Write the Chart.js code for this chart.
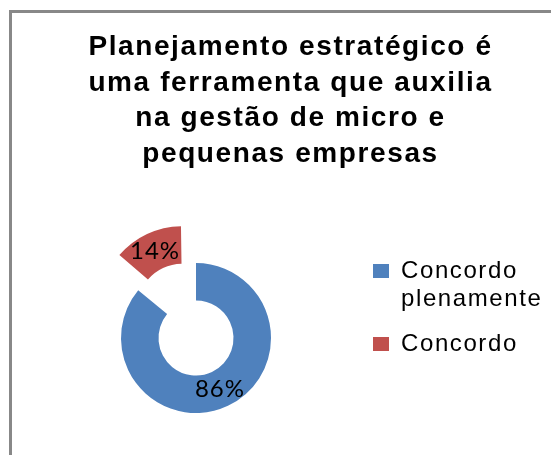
<!DOCTYPE html>
<html>
<head>
<meta charset="utf-8">
<script src="https://cdn.jsdelivr.net/npm/chart.js@4"></script>
<style>
  html, body { margin: 0; padding: 0; background: #fff; overflow: hidden; }
  #frame { position: absolute; left: 9px; top: 10px; width: 600px; height: 500px;
           border-left: 3px solid #888; border-top: 3px solid #888; }
  #wrap { position: absolute; left: 0; top: 0; width: 551px; height: 455px; }
</style>
</head>
<body>
<div id="frame"></div>
<div id="wrap"><canvas id="myChart"></canvas></div>
<script>
const titleLines = ['Planejamento estratégico é', 'uma ferramenta que auxilia', 'na gestão de micro e', 'pequenas empresas'];
const labels = [['Concordo', 'plenamente'], 'Concordo'];
const values = [86, 14];
const colors = ['#4F81BD', '#C0504D'];
const explode = [0, 130];   // red slice pulled out

const canvas = document.getElementById('myChart');
const ctx = canvas.getContext('2d');

// text in the picture is spaced out a bit
const spacing = {
  id: 'spacing',
  beforeLayout(chart) { chart.ctx.letterSpacing = '1.6px'; },
  beforeDraw(chart) { chart.ctx.letterSpacing = '1.6px'; }
};

// percent labels in the middle of each ring piece
const pctLabels = {
  id: 'pctLabels',
  afterDatasetsDraw(chart) {
    const c = chart.ctx;
    const meta = chart.getDatasetMeta(0);
    const total = values.reduce((a, b) => a + b, 0);
    c.save();
    c.letterSpacing = '1px';
    c.font = '24px Lato, sans-serif';
    c.fillStyle = '#000';
    c.textAlign = 'center';
    c.textBaseline = 'middle';
    meta.data.forEach((arc, i) => {
      const p = arc.getProps(['x', 'y', 'startAngle', 'endAngle', 'innerRadius', 'outerRadius', 'circumference']);
      const mid = (p.startAngle + p.endAngle) / 2;
      const off = (arc.options.offset || 0) / 4;
      const fix = 1 - Math.sin(Math.min(Math.PI, p.circumference));
      const r = off * (1 + fix) + (p.innerRadius + p.outerRadius) / 2;
      c.fillText(Math.round(values[i] / total * 100) + '%', p.x + Math.cos(mid) * r, p.y + Math.sin(mid) * r);
    });
    c.restore();
  }
};

const data = {
  labels: labels,
  datasets: [{
    data: values,
    backgroundColor: colors,
    borderWidth: 0,
    offset: explode
  }]
};

const config = {
  type: 'doughnut',
  data: data,
  options: {
    responsive: true,
    maintainAspectRatio: false,
    animation: false,
    radius: 75,
    cutout: '50%',
    layout: { padding: { left: 36, right: 6, top: 0, bottom: 0 } },
    plugins: {
      tooltip: { enabled: false },
      title: {
        display: true,
        text: titleLines,
        color: '#000',
        font: { family: '"Liberation Sans", Arial, sans-serif', size: 28, weight: 'bold', lineHeight: 35.5 / 28 },
        padding: { top: 30, bottom: 49 }
      },
      legend: {
        position: 'right',
        align: 'start',
        fullSize: false,
        maxWidth: 189,
        title: { display: true, text: '', font: { size: 21, lineHeight: 1 }, padding: 0 },
        labels: {
          color: '#000',
          boxWidth: 16,
          boxHeight: 14,
          padding: 17,
          font: { family: '"Liberation Sans", Arial, sans-serif', size: 24, lineHeight: 28 / 24 }
        }
      }
    }
  },
  plugins: [spacing, pctLabels]
};

const myChart = new Chart(ctx, config);
</script>
</body>
</html>
